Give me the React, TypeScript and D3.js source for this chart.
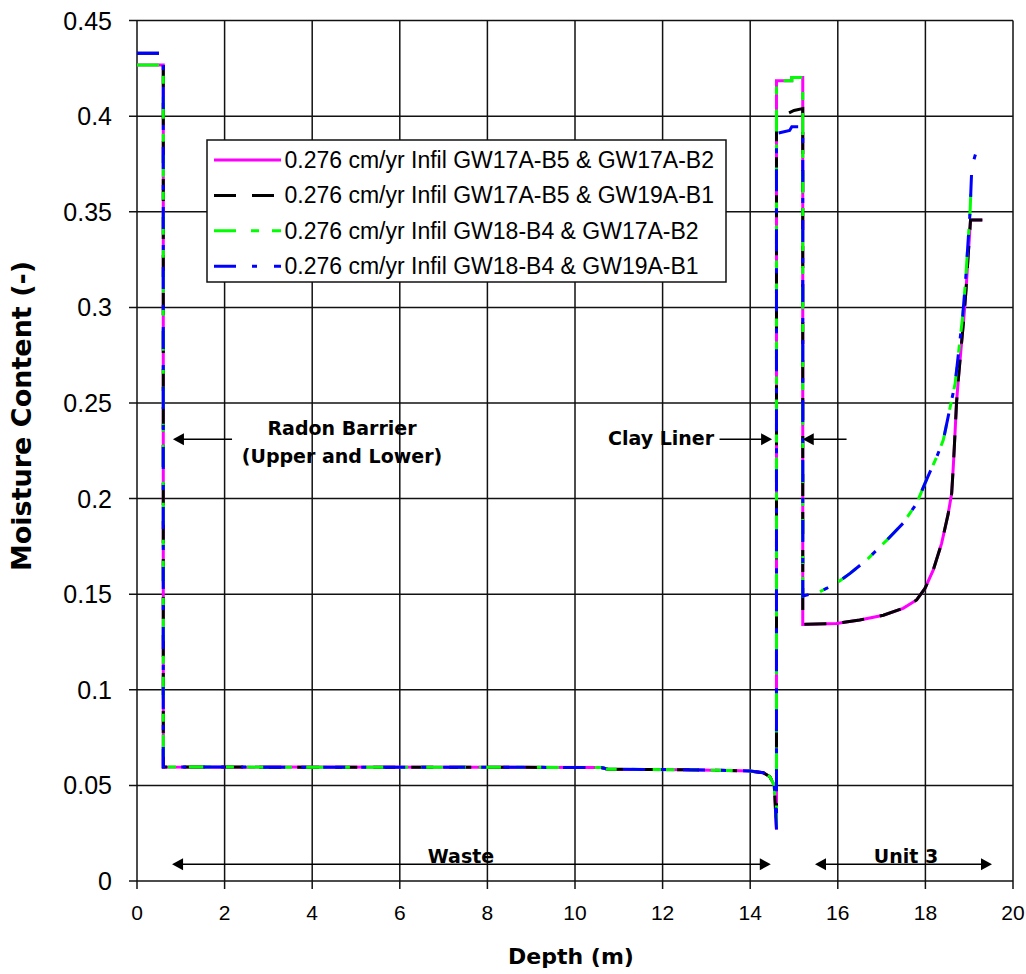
import * as d3 from "d3";

type Pt = [number, number];

// depth (m), moisture content (-)
const radonB2: Pt[] = [[0, 0.4268], [0.6, 0.4268]];
const radonB1: Pt[] = [[0, 0.4329], [0.6, 0.4329]];

const waste: Pt[] = [
  [0.6, 0.0596], [10.6, 0.0594], [10.75, 0.0585], [12.5, 0.0582], [13.5, 0.0578],
  [14.0, 0.0575], [14.3, 0.0566], [14.45, 0.0545], [14.55, 0.05], [14.6, 0.027],
];

const linerB2: Pt[] = [[14.6, 0.4186], [14.95, 0.4186], [14.95, 0.4203], [15.2, 0.4203]];
const linerBlack: Pt[] = [[14.6, 0.4], [14.87, 0.4015], [15.0, 0.403], [15.2, 0.404]];
const linerBlue: Pt[] = [[14.6, 0.391], [14.9, 0.3925], [14.95, 0.3945], [15.2, 0.3945]];

const unit3B5: Pt[] = [
  [15.2, 0.1342], [15.97, 0.1347], [16.5, 0.1365], [17.04, 0.139], [17.49, 0.1426],
  [17.8, 0.147], [17.99, 0.153], [18.18, 0.1627], [18.37, 0.1766], [18.52, 0.192],
  [18.6, 0.2028], [18.64, 0.218], [18.68, 0.2359], [18.71, 0.2499], [18.75, 0.262],
  [18.82, 0.28], [18.88, 0.295], [18.93, 0.31], [18.97, 0.325], [19.0, 0.335],
  [19.03, 0.3457], [19.3, 0.3457],
];

const unit3B4: Pt[] = [
  [15.2, 0.149], [15.59, 0.1513], [15.97, 0.1557], [16.28, 0.1609], [16.66, 0.1679],
  [17.12, 0.1783], [17.49, 0.1871], [17.8, 0.1975], [17.99, 0.208], [18.26, 0.2219],
  [18.41, 0.2307], [18.52, 0.2429], [18.6, 0.2516], [18.68, 0.2603], [18.75, 0.275],
  [18.85, 0.295], [18.92, 0.315], [18.97, 0.333], [19.02, 0.35], [19.04, 0.362],
];
const unit3BlueTail: Pt[] = [[19.06, 0.3736], [19.15, 0.3806], [19.3, 0.3806]];

const series = [
  { name: "0.276 cm/yr Infil GW17A-B5 & GW17A-B2", color: "#ff00ff", dash: "none",
    data: [...radonB2, ...waste, ...linerB2, ...unit3B5] },
  { name: "0.276 cm/yr Infil GW17A-B5 & GW19A-B1", color: "#000000", dash: "22 16",
    data: [...radonB1, ...waste, ...linerBlack, ...unit3B5] },
  { name: "0.276 cm/yr Infil GW18-B4 & GW17A-B2", color: "#00ff00", dash: "22 15 8 13",
    data: [...radonB2, ...waste, ...linerB2, ...unit3B4] },
  { name: "0.276 cm/yr Infil GW18-B4 & GW19A-B1", color: "#0000ff", dash: "22 16 5 17",
    data: [...radonB1, ...waste, ...linerBlue, ...unit3B4, ...unit3BlueTail] },
];

const xTicks = d3.range(0, 21, 2);
const yTicks = d3.range(0, 0.451, 0.05);

// annotation arrows: [from depth, to depth, moisture], head at "to"
const arrows: [number, number, number][] = [
  [2.17, 0.82, 0.231],
  [13.3, 14.5, 0.231],
  [16.2, 15.2, 0.231],
];
const doubleArrows: [number, number, number][] = [
  [0.8, 14.47, 0.0088],
  [15.48, 19.52, 0.0088],
];

export default function App() {
  const width = 1026;
  const height = 974;
  const x = d3.scaleLinear().domain([0, 20]).range([137, 1013]);
  const y = d3.scaleLinear().domain([0, 0.45]).range([881, 20.6]);
  const line = d3.line<Pt>().x((d) => x(d[0])).y((d) => y(d[1]));

  const head = (tx: number, ty: number, dir: number) =>
    `M${tx},${ty}L${tx - dir * 11},${ty - 6}L${tx - dir * 11},${ty + 6}Z`;

  const bold = "'DejaVu Sans', sans-serif";
  const sans = "'Liberation Sans', Arial, sans-serif";

  return (
    <svg width={width} height={height} viewBox={`0 0 ${width} ${height}`} style={{ display: "block", background: "#fff" }}>
      <style>{"body{margin:0}"}</style>
      <rect width={width} height={height} fill="#fff" />
      <g stroke="#111" strokeWidth={1.5}>
        {xTicks.map((t) => (
          <line key={"gx" + t} x1={x(t)} x2={x(t)} y1={y(0.45)} y2={y(0) + 8} />
        ))}
        {yTicks.map((t) => (
          <line key={"gy" + t} x1={x(0) - 8} x2={x(20)} y1={y(t)} y2={y(t)} />
        ))}
      </g>
      <g fontFamily={sans} fontSize={25} fill="#000" textAnchor="end">
        {yTicks.map((t) => (
          <text key={"ly" + t} x={112} y={y(t) + 9}>
            {d3.format("~g")(+t.toFixed(2))}
          </text>
        ))}
      </g>
      <g fontFamily={sans} fontSize={21} fill="#000" textAnchor="middle">
        {xTicks.map((t) => (
          <text key={"lx" + t} x={x(t)} y={920}>
            {t}
          </text>
        ))}
      </g>
      <text x={x(10) - 4} y={964} textAnchor="middle" fontFamily={bold} fontWeight="bold" fontSize={22}>
        Depth (m)
      </text>
      <text
        transform={`translate(31,416) rotate(-90)`}
        textAnchor="middle"
        fontFamily={bold}
        fontWeight="bold"
        fontSize={27}
      >
        Moisture Content (-)
      </text>

      <g fill="none" strokeWidth={3}>
        {series.map((s) => (
          <path key={s.name} d={line(s.data) || ""} stroke={s.color} strokeDasharray={s.dash} />
        ))}
      </g>

      {/* annotations */}
      <g fontFamily={bold} fontWeight="bold" fontSize={19} fill="#000">
        <text x={342} y={435} textAnchor="middle">Radon Barrier</text>
        <text x={342} y={463} textAnchor="middle">(Upper and Lower)</text>
        <text x={608} y={445}>Clay Liner</text>
        <text x={461} y={863} textAnchor="middle">Waste</text>
        <text x={906} y={863} textAnchor="middle">Unit 3</text>
      </g>
      <g stroke="#000" strokeWidth={1.5} fill="#000">
        {arrows.map(([a, b, v], i) => {
          const dir = b > a ? 1 : -1;
          return (
            <g key={"a" + i}>
              <line x1={x(a)} x2={x(b) - dir * 8} y1={y(v)} y2={y(v)} />
              <path d={head(x(b), y(v), dir)} stroke="none" />
            </g>
          );
        })}
        {doubleArrows.map(([a, b, v], i) => (
          <g key={"d" + i}>
            <line x1={x(a) + 8} x2={x(b) - 8} y1={y(v)} y2={y(v)} />
            <path d={head(x(a), y(v), -1)} stroke="none" />
            <path d={head(x(b), y(v), 1)} stroke="none" />
          </g>
        ))}
      </g>

      {/* legend */}
      <g>
        <rect x={207} y={140} width={519} height={142} fill="#fff" stroke="#111" strokeWidth={1.5} />
        {series.map((s, i) => {
          const cy = 160 + i * 35.4;
          return (
            <g key={"lg" + s.name}>
              <line x1={214} x2={281} y1={cy} y2={cy} stroke={s.color} strokeWidth={3} strokeDasharray={s.dash} />
              <text x={284.5} y={cy + 8} fontFamily={sans} fontSize={23} fill="#000">
                {s.name}
              </text>
            </g>
          );
        })}
      </g>
    </svg>
  );
}
